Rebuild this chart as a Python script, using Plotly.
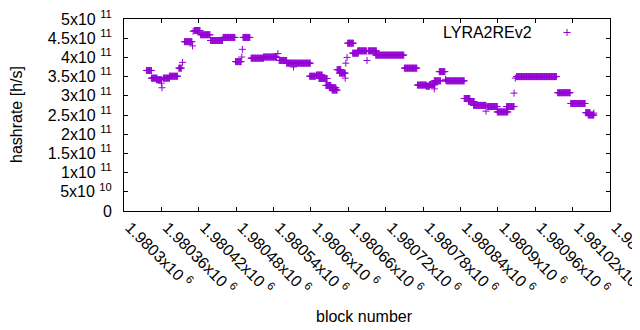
import plotly.graph_objects as go

# ---- data (run-length: each run = consecutive blocks with the same hashrate) ----
run_start = [1980336, 1980344, 1980352, 1980360, 1980361, 1980363, 1980373, 1980388, 1980394,
             1980397, 1980410, 1980411, 1980413, 1980423, 1980439, 1980459, 1980479, 1980489,
             1980490, 1980491, 1980504, 1980524, 1980547, 1980549, 1980561, 1980572, 1980598,
             1980609, 1980613, 1980624, 1980630, 1980634, 1980642, 1980646, 1980655, 1980656,
             1980658, 1980659, 1980667, 1980675, 1980690, 1980692, 1980704, 1980750, 1980771,
             1980785, 1980790, 1980798, 1980798, 1980806, 1980816, 1980817, 1980846, 1980853,
             1980861, 1980881, 1980883, 1980899, 1980914, 1980926, 1980928, 1980930, 1980996,
             1981017, 1981041, 1981045, 1981054]
run_end = [1980344, 1980353, 1980360, 1980360, 1980361, 1980373, 1980386, 1980392, 1980394,
           1980409, 1980410, 1980411, 1980422, 1980438, 1980458, 1980478, 1980488, 1980489,
           1980490, 1980502, 1980524, 1980545, 1980547, 1980561, 1980599, 1980572, 1980607,
           1980618, 1980626, 1980632, 1980640, 1980642, 1980648, 1980655, 1980655, 1980656,
           1980658, 1980668, 1980676, 1980689, 1980690, 1980705, 1980749, 1980770, 1980785,
           1980790, 1980799, 1980798, 1980808, 1980815, 1980816, 1980846, 1980855, 1980862,
           1980881, 1980881, 1980899, 1980916, 1980926, 1980926, 1980928, 1980994, 1981016,
           1981040, 1981048, 1981054, 1981054]
run_hashrate = [3.66e11, 3.46e11, 3.42e11, 3.33e11, 3.21e11, 3.46e11, 3.51e11, 3.72e11, 3.87e11,
                4.41e11, 4.30e11, 4.68e11, 4.70e11, 4.59e11, 4.44e11, 4.52e11, 3.89e11, 4.01e11,
                4.21e11, 4.52e11, 3.98e11, 4.01e11, 4.10e11, 3.92e11, 3.85e11, 3.75e11, 3.51e11,
                3.54e11, 3.45e11, 3.27e11, 3.21e11, 3.15e11, 3.68e11, 3.59e11, 3.46e11, 3.85e11,
                4.00e11, 4.37e11, 4.11e11, 4.17e11, 3.92e11, 4.17e11, 4.06e11, 3.72e11, 3.28e11,
                3.25e11, 3.29e11, 3.18e11, 3.39e11, 3.63e11, 3.43e11, 3.39e11, 2.93e11, 2.85e11,
                2.75e11, 2.60e11, 2.72e11, 2.58e11, 2.72e11, 3.07e11, 3.46e11, 3.50e11, 3.08e11,
                2.80e11, 2.56e11, 2.50e11, 2.55e11]

y_tickvals = [0, 0.5e11, 1e11, 1.5e11, 2e11, 2.5e11, 3e11, 3.5e11, 4e11, 4.5e11, 5e11]
y_ticktext = ["0", "5x10 <sup>10</sup>", "1x10 <sup>11</sup>", "1.5x10 <sup>11</sup>",
              "2x10 <sup>11</sup>", "2.5x10 <sup>11</sup>", "3x10 <sup>11</sup>",
              "3.5x10 <sup>11</sup>", "4x10 <sup>11</sup>", "4.5x10 <sup>11</sup>",
              "5x10 <sup>11</sup>"]
x_tickvals = [1980300, 1980360, 1980420, 1980480, 1980540, 1980600, 1980660,
              1980720, 1980780, 1980840, 1980900, 1980960, 1981020, 1981080]
x_ticktext = ["1.9803x10 <sup>6</sup>", "1.98036x10 <sup>6</sup>", "1.98042x10 <sup>6</sup>",
              "1.98048x10 <sup>6</sup>", "1.98054x10 <sup>6</sup>", "1.9806x10 <sup>6</sup>",
              "1.98066x10 <sup>6</sup>", "1.98072x10 <sup>6</sup>", "1.98078x10 <sup>6</sup>",
              "1.98084x10 <sup>6</sup>", "1.9809x10 <sup>6</sup>", "1.98096x10 <sup>6</sup>",
              "1.98102x10 <sup>6</sup>", "1.98108x10 <sup>6</sup>"]

# decode runs into one point per block
blocks, hashrates = [], []
for s, e, v in zip(run_start, run_end, run_hashrate):
    for b in range(s, e + 1):
        blocks.append(b)
        hashrates.append(v)

COLOR = "#9400D3"
FONT = "Liberation Sans, Arial, sans-serif"
FS = 16

fig = go.Figure()
fig.add_trace(go.Scatter(
    x=blocks, y=hashrates, mode="markers", name="LYRA2REv2",
    marker=dict(symbol="cross-thin", size=5, line=dict(width=1, color=COLOR), color=COLOR),
    showlegend=False,
))

# page body has an 8px default margin: the figure starts at (8, 8) in the window
OFF = 8
W, H = 640 - OFF, 330 - OFF
PL, PR, PT, PB = 124, 610, 19, 211          # plot area in window pixels
L, R, T, B = PL - OFF, 640 - PR, PT - OFF, 330 - PB
pw, ph = PR - PL, PB - PT

axis_common = dict(showline=True, linecolor="black", linewidth=1, mirror="allticks",
                   ticks="inside", ticklen=4, tickcolor="black", showgrid=False,
                   zeroline=False, tickfont=dict(family=FONT, size=FS, color="black"))

fig.update_xaxes(range=[1980300, 1981080], tickvals=x_tickvals, ticktext=x_ticktext,
                 tickangle=45, automargin=False, ticklabelstandoff=0, ticklabelshift=6,
                 ticklabeloverflow="allow", **axis_common)
fig.update_yaxes(range=[0, 5e11], tickvals=y_tickvals, ticktext=y_ticktext,
                 automargin=False, ticklabelstandoff=8, ticklabeloverflow="allow",
                 **axis_common)

def px_x(p):
    return (p - PL) / pw

def px_y(p):
    return (PB - p) / ph

annotations = [
    dict(text="hashrate [h/s]", x=px_x(16), y=px_y(115), xref="paper", yref="paper",
         textangle=-90, showarrow=False, font=dict(family=FONT, size=FS, color="black"),
         xanchor="center", yanchor="middle"),
    dict(text="block number", x=px_x(364), y=px_y(316), xref="paper", yref="paper",
         showarrow=False, font=dict(family=FONT, size=FS, color="black"),
         xanchor="center", yanchor="middle"),
    dict(text="LYRA2REv2", x=px_x(534), y=px_y(32), xref="paper", yref="paper",
         showarrow=False, font=dict(family=FONT, size=FS, color="black"),
         xanchor="right", yanchor="middle"),
]

cx, cy, hl = 567, 32.5, 3.5
shapes = [
    dict(type="line", xref="paper", yref="paper", x0=px_x(cx - hl), x1=px_x(cx + hl),
         y0=px_y(cy), y1=px_y(cy), line=dict(color=COLOR, width=1)),
    dict(type="line", xref="paper", yref="paper", x0=px_x(cx), x1=px_x(cx),
         y0=px_y(cy - hl), y1=px_y(cy + hl), line=dict(color=COLOR, width=1)),
]

fig.update_layout(width=W, height=H, margin=dict(l=L, r=R, t=T, b=B, pad=0),
                  paper_bgcolor="white", plot_bgcolor="white",
                  annotations=annotations, shapes=shapes, showlegend=False)

fig.write_html("out.html")
